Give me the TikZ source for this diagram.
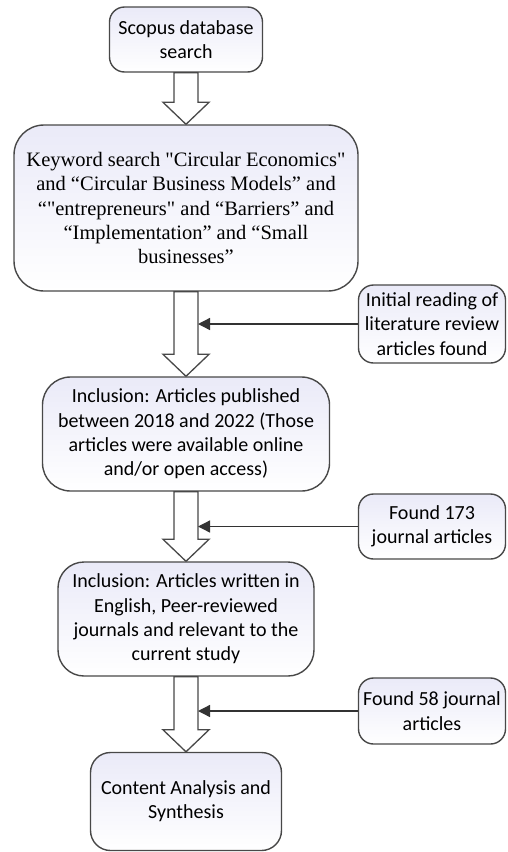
\documentclass[tikz,border=0pt]{standalone}
\usepackage{fontspec}
\setmainfont{Carlito}
\newfontfamily\kwfont{Liberation Serif}
\usetikzlibrary{arrows.meta,calc,positioning}

\definecolor{boxtop}{RGB}{234,234,248}
\definecolor{edgegray}{RGB}{72,72,72}

\tikzset{
  box/.style={draw=edgegray, line width=1.4pt, rounded corners=#1, align=center,
    inner sep=0pt, top color=boxtop, bottom color=white,
    font=\fontsize{20}{24.3}\selectfont},
  box/.default=14pt,
  blockarr/.style={draw=edgegray, line width=1.3pt, fill=white, line join=miter},
  feed/.style={draw=black!80, line width=1.3pt, -{Triangle[length=12pt,width=12pt]}}
}

% block arrow from the bottom of #1 to the top of #2
\newcommand{\blockarrow}[2]{%
  \draw[blockarr] ($(#1.south)+(-12,0)$) -- ($(#2.north)+(-12,-22)$) -- ++(-11,0)
    -- (#2.north) -- ++(23,-22) -- ++(-11,0) -- ($(#1.south)+(12,0)$) -- cycle;}

\begin{document}
\begin{tikzpicture}[x=1pt,y=-1pt]
  \useasboundingbox (0,0) rectangle (507,852);

  % main steps
  \node[box=15pt, minimum width=153pt, minimum height=65pt] (scopus) at (186,39.5)
    {Scopus database\\search};
  \node[box=30pt, minimum width=344pt, minimum height=166pt,
        font=\kwfont\fontsize{20.5}{24.3}\selectfont] (keyword) at (186,208)
    {Keyword search "Circular Economics"\\
     and “Circular Business Models” and\\
     “"entrepreneurs" and “Barriers” and\\
     “Implementation” and “Small\\
     businesses”};
  \node[box=28pt, minimum width=287pt, minimum height=114pt] (years) at (186,434)
    {Inclusion: Articles published\\
     between 2018 and 2022 (Those\\
     articles were available online\\
     and/or open access)};
  \node[box=26pt, minimum width=256pt, minimum height=114pt] (english) at (186,619)
    {Inclusion: Articles written in\\
     English, Peer-reviewed\\
     journals and relevant to the\\
     current study};
  \node[box=20pt, minimum width=191pt, minimum height=98pt] (synth) at (186,801.5)
    {Content Analysis and\\Synthesis};

  % side notes
  \node[box=15pt, minimum width=147pt, minimum height=78pt] (reading) at (432,324)
    {Initial reading of\\literature review\\articles found};
  \node[box=15pt, minimum width=147pt, minimum height=65pt] (found173) at (432,526.5)
    {Found 173\\journal articles};
  \node[box=15pt, minimum width=147pt, minimum height=66pt] (found58) at (432,711)
    {Found 58 journal\\articles};

  % block arrows
  \blockarrow{scopus}{keyword}
  \blockarrow{keyword}{years}
  \blockarrow{years}{english}
  \blockarrow{english}{synth}

  % side arrows into the shafts
  \coordinate (j1) at ($(reading.west -| keyword.south)+(12,0)$);
  \coordinate (j2) at ($(found173.west -| years.south)+(12,0)$);
  \coordinate (j3) at ($(found58.west -| english.south)+(12,0)$);
  \draw[feed] (reading.west) -- (j1);
  \draw[feed] (found173.west) -- (j2);
  \draw[feed] (found58.west) -- (j3);
\end{tikzpicture}
\end{document}
